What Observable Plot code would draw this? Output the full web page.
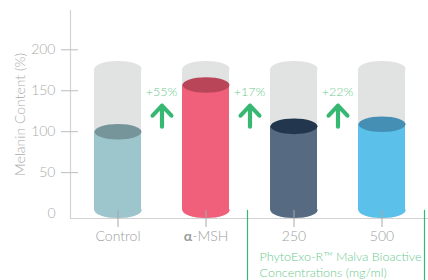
<!DOCTYPE html>
<html>
<head>
<meta charset="utf-8">
<script src="https://cdn.jsdelivr.net/npm/d3@7"></script>
<script src="https://cdn.jsdelivr.net/npm/@observablehq/plot@0.6"></script>
<style>
  html, body { margin: 0; padding: 0; background: #fff; }
  #chart svg { display: block; }
</style>
</head>
<body>
<div id="chart"></div>
<script>
// ---- data ----
const categories = ["Control", "α-MSH", "250", "500"];
const values = [100, 157, 106.5, 109];
const capacity = [177, 177, 177, 177];
const cylinderBase = 4;
const bodyColors = ["#9dc5cc", "#f0607a", "#566b82", "#5bc0ea"];
const topColors = ["#76959a", "#b84558", "#22374d", "#448fb3"];
const changeFrom = ["Control", "α-MSH", "250"];
const changeLabels = ["+55%", "+17%", "+22%"];
const arrowMid = 119;
const labelY = 148;
const yTicks = [50, 100, 150, 200];
const yLabelTicks = [0, 50, 100, 150, 200];
const yLabel = "Melanin Content (%)";
const groupTitle = "PhytoExo-R™ Malva Bioactive\nConcentrations (mg/ml)";

const bars = categories.map((c, i) => ({cat: c, value: values[i], cap: capacity[i], body: bodyColors[i], top: topColors[i]}));
const changes = changeFrom.map((c, i) => ({cat: c, label: changeLabels[i]}));

const ellipse = {
  draw(ctx, size) {
    const rx = Math.sqrt(size / Math.PI), ry = rx * 0.33, k = 0.5523;
    ctx.moveTo(rx, 0);
    ctx.bezierCurveTo(rx, ry * k, rx * k, ry, 0, ry);
    ctx.bezierCurveTo(-rx * k, ry, -rx, ry * k, -rx, 0);
    ctx.bezierCurveTo(-rx, -ry * k, -rx * k, -ry, 0, -ry);
    ctx.bezierCurveTo(rx * k, -ry, rx, -ry * k, rx, 0);
    ctx.closePath();
  }
};
const upArrow = {
  draw(ctx, size) {
    const h = Math.sqrt(size / Math.PI);
    ctx.moveTo(0, h);
    ctx.lineTo(0, -h);
    ctx.moveTo(-h * 0.9, -h * 0.05);
    ctx.lineTo(0, -h);
    ctx.lineTo(h * 0.9, -h * 0.05);
  }
};

const green = "#36b872";
const greenText = "#6cca90";
const R = 23.5;
const font = "Lato, 'Open Sans', sans-serif";

const chart = Plot.plot({
  width: 428,
  height: 280,
  marginLeft: 70,
  marginRight: 0,
  marginTop: 10,
  marginBottom: 62,
  style: {fontFamily: font, background: "#fff"},
  x: {type: "band", domain: categories, range: [73.5, 425.5], paddingInner: 0.466, paddingOuter: 0.233},
  y: {domain: [-6, 248]},
  marks: [
    // gray background cylinders
    Plot.barY(bars, {x: "cat", y1: cylinderBase, y2: "cap", fill: "#e1e2e2"}),
    Plot.dot(bars, {x: "cat", y: cylinderBase, r: R, symbol: ellipse, fill: "#e1e2e2", stroke: null}),
    Plot.dot(bars, {x: "cat", y: "cap", r: R, symbol: ellipse, fill: "#e1e2e2", stroke: null}),
    // coloured cylinders
    Plot.barY(bars, {x: "cat", y1: cylinderBase, y2: "value", fill: d => d.body}),
    Plot.dot(bars, {x: "cat", y: cylinderBase, r: R, symbol: ellipse, fill: d => d.body, stroke: null}),
    Plot.dot(bars, {x: "cat", y: "value", r: R, symbol: ellipse, fill: d => d.top, stroke: null}),
    // axes frame lines
    Plot.frame({anchor: "left", stroke: "#d2d2d2", strokeWidth: 1.2}),
    Plot.frame({anchor: "bottom", stroke: "#d2d2d2", strokeWidth: 1.2}),
    // y ticks crossing the axis
    Plot.axisY({ticks: yTicks, tickSize: 17, dx: 8, stroke: "#bdbdbd", tickFormat: () => "", label: null}),
    Plot.axisY({ticks: yLabelTicks, tickSize: 0, tickPadding: 15, fontSize: 14, fontWeight: 300, fill: "#ababab",
      label: yLabel, labelAnchor: "center", labelOffset: 55, labelArrow: "none"}),
    // x ticks crossing the axis
    Plot.axisX({tickSize: 17, dy: -8, stroke: "#a8a8a8", tickFormat: () => "", label: null}),
    Plot.axisX({tickSize: 0, tickPadding: 13, fontSize: 14, fontWeight: 300, fill: "#9d9d9d", label: null}),
    // change annotations
    Plot.text(changes, {x: "cat", y: labelY, dx: 43.5, text: "label", fontSize: 12.5, fontWeight: 300, fill: greenText}),
    Plot.dot(changes, {x: "cat", y: arrowMid, dx: 44, r: 10.5, symbol: upArrow, fill: "none", stroke: green, strokeWidth: 4.2, strokeLinecap: "round", strokeLinejoin: "round"}),
    // group separators
    Plot.ruleX(["250"], {x: d => d, y1: 4, y2: -82, dx: -46.5, stroke: green, strokeWidth: 1.2}),
    Plot.ruleX(["500"], {x: d => d, y1: 4, y2: -82, dx: 42.5, stroke: green, strokeWidth: 1.2}),
    // group title
    Plot.text([groupTitle], {x: () => "250", y: -45, dx: -34.5, text: d => d, textAnchor: "start", lineAnchor: "top", lineHeight: 1.22, fontSize: 12.6, fontWeight: 300, fill: greenText})
  ]
});

document.getElementById("chart").appendChild(chart);
chart.querySelectorAll("text").forEach(t => {
  // bold alpha
  if (t.textContent === "α-MSH") {
    t.textContent = "";
    const a = document.createElementNS("http://www.w3.org/2000/svg", "tspan");
    a.setAttribute("font-weight", "bold");
    a.textContent = "α";
    const b = document.createElementNS("http://www.w3.org/2000/svg", "tspan");
    b.textContent = "-MSH";
    t.appendChild(a); t.appendChild(b);
  }
  // strip any automatic label arrow
  if (t.textContent.startsWith(yLabel) && t.textContent !== yLabel) t.textContent = yLabel;
});
</script>
</body>
</html>
